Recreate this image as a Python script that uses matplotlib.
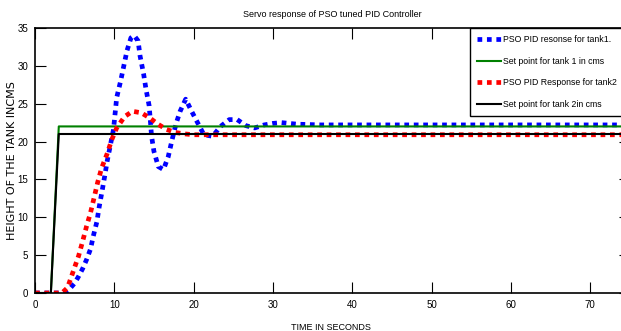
import matplotlib
matplotlib.use("Agg")
import matplotlib.pyplot as plt

# tank 1 response (blue)
t_tank1 = [0, 1, 2, 3, 4, 4.5, 5, 5.5, 6, 6.5, 7, 7.35, 7.8, 8.1, 8.45, 8.8, 9.1, 9.5,
           9.9, 10.3, 10.8, 11.2, 11.6, 12.1, 12.5, 13.0, 13.25, 13.7, 14.0, 14.4,
           14.7, 15.0, 15.55, 16.2, 16.8, 17.3, 17.8, 18.3, 19.0, 19.8, 20.6, 21.3,
           22.4, 23.4, 24.5, 25.5, 26.6, 27.7, 28.9, 30.0, 31.1, 33, 36, 40, 50, 60, 75]
h_tank1 = [0, 0, 0, 0, 0.2, 0.7, 1.3, 2.2, 3.2, 4.4, 5.8, 7.5, 9.4, 11.4, 13.4, 15.5,
           17.4, 19.5, 21.6, 25.8, 28.0, 30.0, 32.0, 33.7, 34.0, 33.3, 31.3, 28.9,
           26.9, 24.7, 20.7, 18.7, 16.7, 16.3, 18.0, 20.3, 22.4, 24.0, 25.6, 23.9,
           22.3, 20.9, 20.7, 22.0, 22.9, 22.9, 22.1, 21.8, 22.2, 22.4, 22.5, 22.3,
           22.2, 22.2, 22.2, 22.2, 22.2]

# tank 2 response (red)
t_tank2 = [0, 1, 2, 3, 3.5, 4.0, 4.3, 4.9, 5.5, 6.0, 6.5, 7.0, 7.5, 7.9, 8.4, 9.1,
           9.7, 10.3, 11.3, 12.3, 13.4, 14.5, 15.5, 16.6, 17.7, 19, 20, 22, 25, 30,
           40, 50, 60, 75]
h_tank2 = [0, 0, 0, 0, 0.1, 0.6, 1.3, 3.1, 4.9, 6.8, 8.8, 10.6, 12.8, 14.6, 16.5,
           18.4, 20.3, 21.8, 23.3, 24.0, 23.8, 23.1, 22.3, 21.6, 21.2, 21.0, 20.9,
           20.9, 20.9, 20.9, 20.9, 20.9, 20.9, 20.9]

# set points
t_set = [0, 2, 3, 75]
sp_tank1 = [0, 0, 22, 22]
sp_tank2 = [0, 0, 21, 21]

labels = ["PSO PID resonse for tank1.", "Set point for tank 1 in cms",
          "PSO PID Response for tank2", "Set point for tank 2in cms"]

plt.rcParams["font.family"] = ["Liberation Sans", "DejaVu Sans"]

fig = plt.figure(figsize=(6.21, 3.31), dpi=100)
# axes run a bit past the right edge, like the cropped original
ax = fig.add_axes([35 / 621, 1 - 293 / 331, 75 * 7.93 / 621, 265 / 331])

ax.plot(t_tank1, h_tank1, color="blue", lw=3.4, dashes=(1, 1), label=labels[0])
ax.plot(t_set, sp_tank1, color=(0, 0.5, 0), lw=1.5, label=labels[1])
ax.plot(t_tank2, h_tank2, color="red", lw=3.4, dashes=(1, 1), label=labels[2])
ax.plot(t_set, sp_tank2, color="black", lw=1.5, label=labels[3])

ax.set_xlim(0, 75)
ax.set_ylim(0, 35)
ax.set_xticks(range(0, 71, 10))
ax.set_yticks(range(0, 36, 5))
ax.tick_params(direction="in", length=8, width=0.8, top=True, right=True,
               labelsize=7, pad=5)
for s in ax.spines.values():
    s.set_linewidth(1.2)

ax.set_title("Servo response of PSO tuned PID Controller", fontsize=6.5, pad=8)
ax.set_xlabel("TIME IN SECONDS", fontsize=6.5)
ax.xaxis.set_label_coords((331 - 35) / 594.75, -30 / 265)
ax.set_ylabel("HEIGHT OF THE TANK INCMS", fontsize=8, family="DejaVu Sans")
ax.yaxis.set_label_coords((17 - 35) / 594.75, 0.5)

leg = ax.legend(loc="upper left", bbox_to_anchor=(470 / 621, 1 - 28 / 331),
                bbox_transform=fig.transFigure, borderaxespad=0, fontsize=6.3,
                handlelength=2.7, handletextpad=0.3, labelspacing=1.45,
                fancybox=False, framealpha=1, edgecolor="black", borderpad=0.8)
leg.get_frame().set_linewidth(1.0)

fig.savefig("out.png", dpi=100)
